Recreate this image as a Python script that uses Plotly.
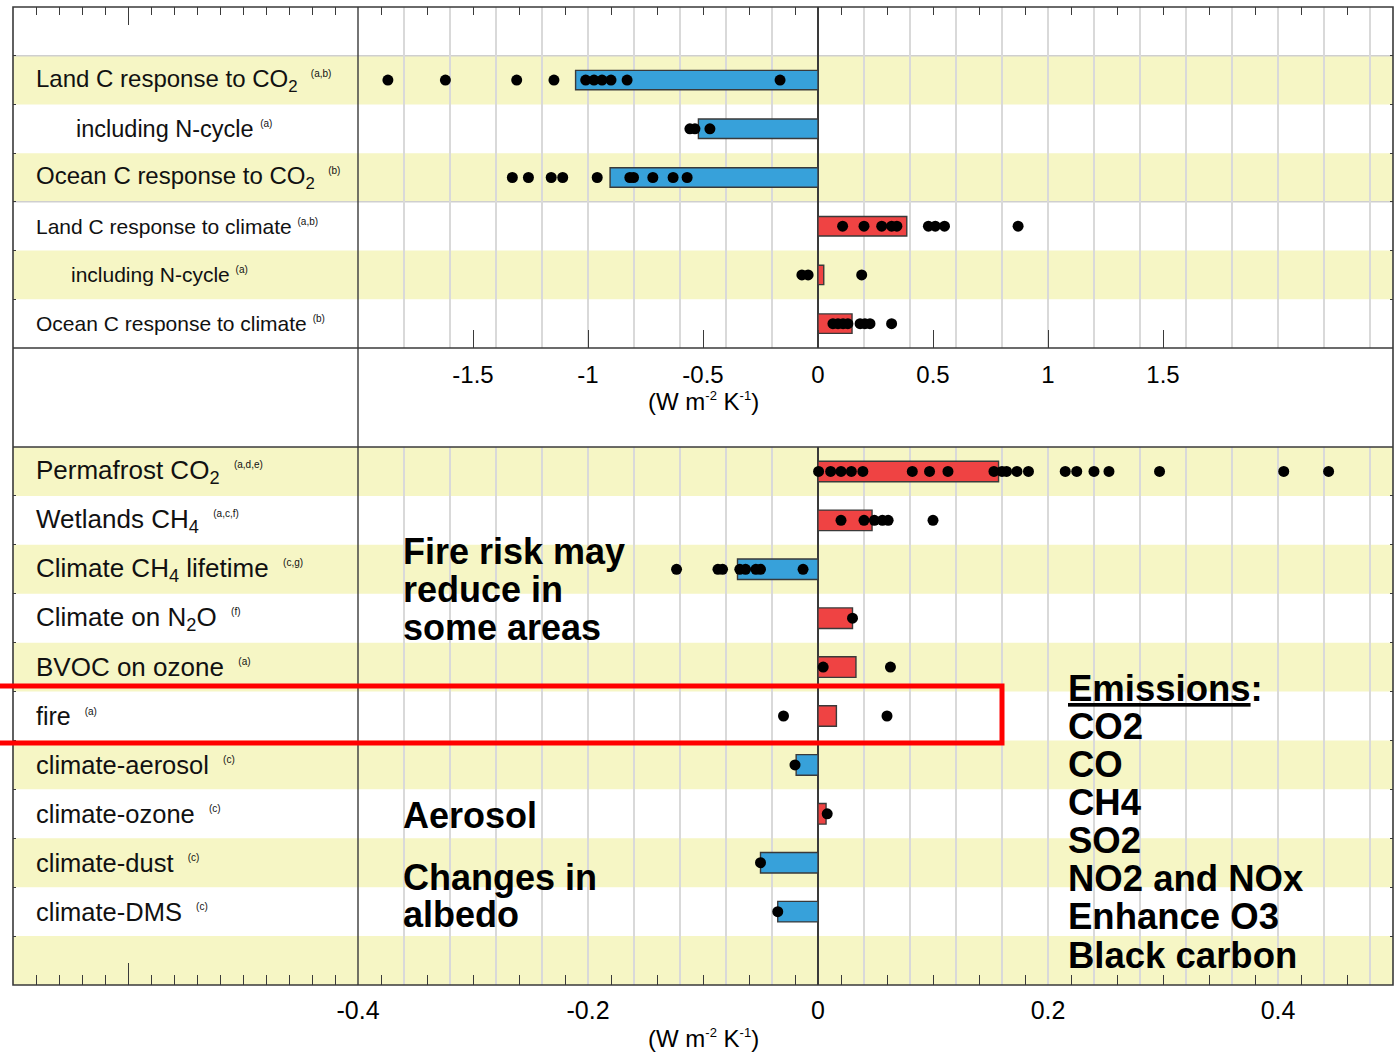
import numpy as np
import plotly.graph_objects as go

# ---------------- data ----------------
top_labels = ["Land C response to CO<sub>2</sub>", "including N-cycle", "Ocean C response to CO<sub>2</sub>",
              "Land C response to climate", "including N-cycle", "Ocean C response to climate"]
top_notes = ["(a,b)", "(a)", "(b)", "(a,b)", "(a)", "(b)"]
top_means = [-1.054, -0.52, -0.904, 0.386, 0.025, 0.148]
top_models = [
    [-1.87, -1.62, -1.31, -1.148, -1.01, -0.974, -0.939, -0.90, -0.83, -0.165],
    [-0.557, -0.535, -0.47],
    [-1.329, -1.259, -1.160, -1.110, -0.960, -0.818, -0.802, -0.718, -0.630, -0.569],
    [0.107, 0.20, 0.277, 0.32, 0.343, 0.48, 0.51, 0.55, 0.87],
    [-0.07, -0.043, 0.19],
    [0.065, 0.087, 0.109, 0.13, 0.183, 0.204, 0.226, 0.32],
]
top_ticks = [-1.5, -1, -0.5, 0, 0.5, 1, 1.5]
top_tick_text = ["-1.5", "-1", "-0.5", "0", "0.5", "1", "1.5"]

bottom_labels = ["Permafrost CO<sub>2</sub>", "Wetlands CH<sub>4</sub>", "Climate CH<sub>4</sub> lifetime",
                 "Climate on N<sub>2</sub>O", "BVOC on ozone", "fire", "climate-aerosol",
                 "climate-ozone", "climate-dust", "climate-DMS"]
bottom_notes = ["(a,d,e)", "(a,c,f)", "(c,g)", "(f)", "(a)", "(a)", "(c)", "(c)", "(c)", "(c)"]
bottom_means = [0.157, 0.047, -0.070, 0.030, 0.033, 0.016, -0.019, 0.007, -0.050, -0.035]
bottom_models = [
    [0.0005, 0.011, 0.020, 0.029, 0.039, 0.082, 0.097, 0.113, 0.153, 0.160, 0.164, 0.173,
     0.183, 0.215, 0.225, 0.240, 0.253, 0.297, 0.405, 0.444],
    [0.020, 0.040, 0.049, 0.056, 0.061, 0.10],
    [-0.123, -0.087, -0.083, -0.068, -0.063, -0.054, -0.050, -0.013],
    [0.030],
    [0.0045, 0.063],
    [-0.030, 0.060],
    [-0.020],
    [0.008],
    [-0.050],
    [-0.035],
]
bottom_ticks = [-0.4, -0.2, 0, 0.2, 0.4]
bottom_tick_text = ["-0.4", "-0.2", "0", "0.2", "0.4"]

unit_text = "(W m<sup><span style='font-size:13px'>-2</span></sup> K<sup><span style='font-size:13px'>-1</span></sup>)"
fire_note = ["Fire risk may", "reduce in", "some areas"]
aerosol_note = ["Aerosol"]
albedo_note = ["Changes in", "albedo"]
emission_title = "<u>Emissions</u>:"
emission_items = ["CO2", "CO", "CH4", "SO2", "NO2 and NOx", "Enhance O3", "Black carbon"]

# ---------------- style / geometry ----------------
W, H = 1397, 1053
FL, FR, FT, FB = 13, 1393, 7, 985          # frame in pixels
FONT = "Liberation Sans, Arial, Helvetica, sans-serif"
BLUE = "#37A1DA"
RED = "#EF4343"
YELLOW = "#F6F6C5"
GRID = "#D9D9D9"
DARK = "#3A3A3A"


def px_x(p):
    return (p - FL) / (FR - FL)


def px_y(p):
    return (FB - p) / (FB - FT)


top_dom = [px_y(348), 1.0]
bot_dom = [0.0, px_y(447)]
split = px_x(358)

fig = go.Figure()

# top panel bars + model dots (row 0 is a blank row)
top_rows = list(range(1, len(top_labels) + 1))
fig.add_trace(go.Bar(
    x=top_means, y=top_rows, orientation="h", width=0.4,
    marker=dict(color=[RED if v > 0 else BLUE for v in top_means], line=dict(color=DARK, width=1.4)),
    xaxis="x", yaxis="y", showlegend=False, hoverinfo="skip"))
tx, ty = [], []
for r, vals in zip(top_rows, top_models):
    tx += vals
    ty += [r] * len(vals)
fig.add_trace(go.Scatter(x=tx, y=ty, mode="markers", marker=dict(color="black", size=11),
                         xaxis="x", yaxis="y", showlegend=False, hoverinfo="skip"))

# bottom panel
bot_rows = list(range(len(bottom_labels)))
fig.add_trace(go.Bar(
    x=bottom_means, y=bot_rows, orientation="h", width=0.42,
    marker=dict(color=[RED if v > 0 else BLUE for v in bottom_means], line=dict(color=DARK, width=1.4)),
    xaxis="x2", yaxis="y2", showlegend=False, hoverinfo="skip"))
bx, by = [], []
for r, vals in zip(bot_rows, bottom_models):
    bx += vals
    by += [r] * len(vals)
fig.add_trace(go.Scatter(x=bx, y=by, mode="markers", marker=dict(color="black", size=11),
                         xaxis="x2", yaxis="y2", showlegend=False, hoverinfo="skip"))

# empty traces to make the tick-only subplots exist
for i in range(3, 7):
    fig.add_trace(go.Scatter(x=[], y=[], xaxis=f"x{i}", yaxis=f"y{i}", showlegend=False))

n_top = len(top_labels) + 1
n_bot = len(bottom_labels) + 1

# stripes
shapes = []
for i in range(n_top):
    if i % 2 == 1:
        shapes.append(dict(type="rect", xref="paper", yref="y", x0=0, x1=1, y0=i - 0.5, y1=i + 0.5,
                           fillcolor=YELLOW, line=dict(width=0), layer="below"))
for i in range(n_bot):
    if i % 2 == 0:
        shapes.append(dict(type="rect", xref="paper", yref="y2", x0=0, x1=1, y0=i - 0.5, y1=i + 0.5,
                           fillcolor=YELLOW, line=dict(width=0), layer="below"))
# light separators in top panel
for yb in (0.5, 3.5):
    shapes.append(dict(type="line", xref="paper", yref="y", x0=0, x1=1, y0=yb, y1=yb,
                       line=dict(color="#CFCFCF", width=1.5), layer="below"))
# frame
shapes.append(dict(type="rect", xref="paper", yref="paper", x0=0, x1=1, y0=0, y1=1,
                   line=dict(color=DARK, width=1.6), layer="above"))
for yy in (top_dom[0], bot_dom[1]):
    shapes.append(dict(type="line", xref="paper", yref="paper", x0=0, x1=1, y0=yy, y1=yy,
                       line=dict(color=DARK, width=1.6), layer="above"))
shapes.append(dict(type="line", xref="paper", yref="paper", x0=split, x1=split, y0=0, y1=1,
                   line=dict(color=DARK, width=1.4), layer="above"))
# red highlight box
shapes.append(dict(type="rect", xref="paper", yref="paper", x0=px_x(-40), x1=px_x(1002),
                   y0=px_y(743), y1=px_y(686), line=dict(color="#FF0000", width=5), layer="above"))

annotations = []
top_x = [34, 74, 34, 34, 69, 34]
top_size = [24, 23.5, 24, 21, 21, 21]
top_gap = ["&nbsp;&nbsp;", "&nbsp;", "&nbsp;&nbsp;", "&nbsp;", "&nbsp;", "&nbsp;"]
for r, lab, note, xp, fs, gap in zip(top_rows, top_labels, top_notes, top_x, top_size, top_gap):
    annotations.append(dict(
        x=px_x(xp), xref="paper", y=r, yref="y", xanchor="left", yanchor="middle", showarrow=False,
        text=f"{lab}{gap}<sup><span style='font-size:10px'>{note}</span></sup>",
        font=dict(size=fs, color="#111")))
bot_size = [26, 26, 26, 26, 26, 25, 25.5, 25.5, 25.5, 25.5]
for r, lab, note, fs in zip(bot_rows, bottom_labels, bottom_notes, bot_size):
    annotations.append(dict(
        x=px_x(34), xref="paper", y=r, yref="y2", xanchor="left", yanchor="middle", showarrow=False,
        text=f"{lab}&nbsp;&nbsp;<sup><span style='font-size:10px'>{note}</span></sup>",
        font=dict(size=fs, color="#111")))

# axis unit titles
annotations.append(dict(x=px_x(703), y=px_y(402), xref="paper", yref="paper", text=unit_text,
                        showarrow=False, font=dict(size=24), xanchor="center", yanchor="middle"))
annotations.append(dict(x=px_x(703), y=px_y(1038), xref="paper", yref="paper", text=unit_text,
                        showarrow=False, font=dict(size=24), xanchor="center", yanchor="middle"))


def bold_lines(lines, xp, ys, size=36):
    for t, yp in zip(lines, ys):
        annotations.append(dict(x=px_x(xp), y=px_y(yp), xref="paper", yref="paper", text=f"<b>{t}</b>",
                                showarrow=False, font=dict(size=size, color="black"),
                                xanchor="left", yanchor="middle"))


bold_lines(fire_note, 401, [551, 589, 627])
bold_lines(aerosol_note, 401, [815])
bold_lines(albedo_note, 401, [877, 914])
bold_lines([emission_title] + emission_items, 1066, [688, 726, 764, 802, 840, 878, 916, 955], size=36.5)

# tick positions (not data): short ticks every step in label column, odd steps in plot area
top_minor = [round(v, 2) for v in np.arange(-3.4, -2.05, 0.1) if abs(v + 3.0) > 1e-6] + \
            [round(v, 2) for v in np.arange(-1.9, 2.35, 0.2)]
bot_minor = [round(v, 3) for v in np.arange(-0.68, -0.41, 0.02) if abs(v + 0.6) > 1e-6] + \
            [round(v, 3) for v in np.arange(-0.38, 0.47, 0.04)]

hidden_y = dict(showgrid=False, zeroline=False, showticklabels=False, ticks="", showline=False)

fig.update_layout(
    width=W, height=H,
    margin=dict(l=FL, r=W - FR, t=FT, b=H - FB, pad=0),
    paper_bgcolor="white", plot_bgcolor="rgba(0,0,0,0)",
    font=dict(family=FONT, color="black"),
    showlegend=False,
    barmode="overlay",
    shapes=shapes,
    annotations=annotations,
    # top data axis
    xaxis=dict(domain=[split, 1], range=[-2.0, 2.5], anchor="y", showgrid=True, gridcolor=GRID, gridwidth=1.5,
               tick0=0, dtick=0.2, ticks="", showticklabels=False, zeroline=True, zerolinecolor=DARK,
               zerolinewidth=1.5, showline=False),
    yaxis=dict(domain=top_dom, range=[n_top - 0.5, -0.5], anchor="x", **hidden_y),
    # bottom data axis
    xaxis2=dict(domain=[split, 1], range=[-0.4, 0.5], anchor="y2", showgrid=True, gridcolor=GRID, gridwidth=1.5,
                tick0=0, dtick=0.04, ticks="", showticklabels=False, zeroline=True, zerolinecolor=DARK,
                zerolinewidth=1.5, showline=False),
    yaxis2=dict(domain=bot_dom, range=[n_bot - 0.5, -0.5], anchor="x2", **hidden_y),
    # top edge ticks
    xaxis3=dict(domain=[0, 1], range=[-3.5, 2.5], anchor="y3", side="top", showgrid=False, zeroline=False,
                showline=False, tickmode="array", tickvals=[-3.0], ticktext=[""], ticks="inside", ticklen=18,
                tickwidth=1.3, tickcolor=DARK, showticklabels=False,
                minor=dict(tickmode="array", tickvals=top_minor, ticks="inside", ticklen=8, tickwidth=1.3,
                           tickcolor=DARK, showgrid=False)),
    yaxis3=dict(domain=top_dom, range=[n_top - 0.5, -0.5], anchor="x3", showgrid=False, zeroline=False,
                showticklabels=False, showline=False, tickmode="array",
                tickvals=[i + 0.5 for i in range(n_top - 1)], ticks="inside", ticklen=3, tickcolor=DARK,
                mirror="ticks"),
    # bottom of top panel: labels
    xaxis4=dict(domain=[0, 1], range=[-3.5, 2.5], anchor="y4", side="bottom", showgrid=False, zeroline=False,
                showline=False, tickmode="array", tickvals=top_ticks, ticktext=top_tick_text,
                ticks="inside", ticklen=18, tickwidth=1.3, tickcolor=DARK, tickfont=dict(size=24),
                ticklabelstandoff=10),
    yaxis4=dict(domain=top_dom, range=[0, 1], anchor="x4", visible=False),
    # bottom edge ticks
    xaxis5=dict(domain=[0, 1], range=[-0.7, 0.5], anchor="y5", side="bottom", showgrid=False, zeroline=False,
                showline=False, tickmode="array", tickvals=[-0.6], ticktext=[""], ticks="inside", ticklen=22,
                tickwidth=1.3, tickcolor=DARK, showticklabels=False,
                minor=dict(tickmode="array", tickvals=bot_minor, ticks="inside", ticklen=10, tickwidth=1.3,
                           tickcolor=DARK, showgrid=False)),
    yaxis5=dict(domain=bot_dom, range=[n_bot - 0.5, -0.5], anchor="x5", showgrid=False, zeroline=False,
                showticklabels=False, showline=False, tickmode="array",
                tickvals=[i + 0.5 for i in range(n_bot - 1)], ticks="inside", ticklen=3, tickcolor=DARK,
                mirror="ticks"),
    xaxis6=dict(domain=[0, 1], range=[-0.7, 0.5], anchor="y6", side="bottom", showgrid=False, zeroline=False,
                showline=False, tickmode="array", tickvals=bottom_ticks, ticktext=bottom_tick_text,
                ticks="", tickfont=dict(size=25), ticklabelstandoff=8),
    yaxis6=dict(domain=bot_dom, range=[0, 1], anchor="x6", visible=False),
)

fig.write_html("out.html", config={"displayModeBar": False},
               post_script="document.body.style.margin='0';document.body.style.overflow='hidden';")
